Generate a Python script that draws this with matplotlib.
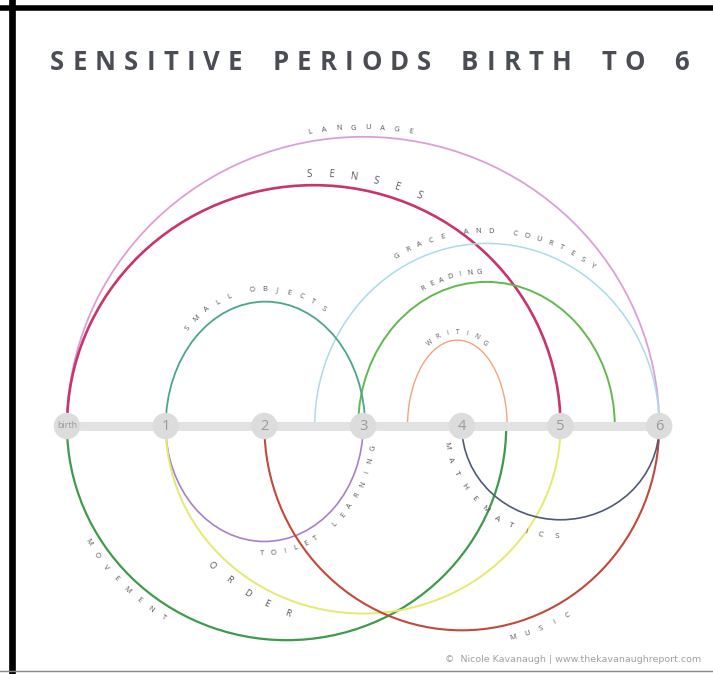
import numpy as np
import matplotlib
matplotlib.use("Agg")
import matplotlib.pyplot as plt
from matplotlib.patches import Arc, Circle
from matplotlib.lines import Line2D
from matplotlib.font_manager import FontProperties
from matplotlib.textpath import TextToPath

# Sensitive periods (Montessori) birth to 6 -- arcs over/under a timeline
ticks = [0, 1, 2, 3, 4, 5, 6]
tick_labels = ["birth", "1", "2", "3", "4", "5", "6"]

periods = ["LANGUAGE", "SENSES", "GRACE AND COURTESY", "READING", "WRITING",
           "SMALL OBJECTS", "TOILET LEARNING", "MOVEMENT", "ORDER", "MUSIC",
           "MATHEMATICS"]
start = [0.0, 0.0, 2.51, 2.95, 3.45, 1.0, 1.0, 0.0, 1.0, 2.0, 4.0]
end = [6.0, 5.0, 6.0, 5.55, 4.46, 3.02, 3.0, 4.45, 5.0, 6.0, 6.0]
reach = [2.93, 2.44, 1.85, 1.46, 0.87, 1.26, -1.17, -2.17, -1.90, -2.07, -0.95]

colors = ["#d9a0d6", "#c8346c", "#acdbe8", "#62b84f", "#f2a47c", "#4aa58c",
          "#a87fc8", "#3f9a4c", "#e6ea6c", "#c0493a", "#4d5a78"]
widths = [1.3, 1.9, 1.1, 1.4, 1.0, 1.3, 1.2, 1.6, 1.4, 1.5, 1.2]
# label placement along each arc: start angle, end angle (deg), offset px, font size
lab_t0 = [100, 91, 119, 117, 118, 134, 269, 211, 224, 284, 190]
lab_t1 = [81, 66, 55, 93, 62, 59, 350, 238, 249, 300, 268]
lab_off = [9, 11, 12, 10, 8, 12, 12, 12, 13, 14, 17]
lab_fs = [5.5, 7, 5.5, 5.5, 4.8, 5.5, 5.5, 5.5, 6.5, 5.5, 6]

W, H = 713, 674
px = 98.7          # pixels per year
x0, y0 = 67, 426   # pixel position of "birth" on the timeline

fig = plt.figure(figsize=(W / 100, H / 100), dpi=100)
ax = fig.add_axes([0, 0, 1, 1])
ax.set_xlim(-x0 / px, (W - x0) / px)
ax.set_ylim(-(H - y0) / px, y0 / px)
ax.axis("off")

lab_font = "Open Sans"

for i, name in enumerate(periods):
    cx = (start[i] + end[i]) / 2
    rx = (end[i] - start[i]) / 2
    ry = abs(reach[i])
    top = reach[i] > 0
    ax.add_patch(Arc((cx, 0), 2 * rx, 2 * ry, theta1=0 if top else 180,
                     theta2=180 if top else 360, color=colors[i],
                     lw=widths[i], zorder=2))
    # curved letters
    off = lab_off[i] / px
    n = len(name)
    ts = np.radians(np.linspace(lab_t0[i], lab_t1[i], n))
    for ch, t in zip(name, ts):
        if ch == " ":
            continue
        x = cx + (rx + off) * np.cos(t)
        y = (ry + off) * np.sin(t)
        if top:
            rot = np.degrees(np.arctan2(-ry * np.cos(t), rx * np.sin(t)))
        else:
            rot = np.degrees(np.arctan2(ry * np.cos(t), -rx * np.sin(t)))
        ax.text(x, y, ch, fontsize=lab_fs[i], color="#555555", family=lab_font,
                ha="center", va="center", rotation=rot, rotation_mode="anchor",
                zorder=4)

# timeline
ax.plot([ticks[0], ticks[-1]], [0, 0], color="#e2e2e2", lw=6.5,
        solid_capstyle="butt", zorder=3)
for t, lab in zip(ticks, tick_labels):
    ax.add_patch(Circle((t, 0), 12.5 / px, color="#dcdcdc", zorder=3))
    ax.text(t, 0, lab, fontsize=6.5 if lab == "birth" else 10.5, color="#9a9a9a",
            ha="center", va="center", family="Open Sans", zorder=4)

# title with letter spacing (word gaps a bit wider)
title = "SENSITIVE PERIODS BIRTH TO 6"
fp = FontProperties(family="Open Sans", weight="bold", size=18.5)
t2p = TextToPath()
cw = [t2p.get_text_width_height_descent(c, fp, ismath=False)[0] * 100 / 72
      for c in title]
left, right = 50, 689
n_sp = title.count(" ")
track = (right - left - sum(cw)) / (len(title) - 1 + 0.8 * n_sp)
xp = left
for c, w in zip(title, cw):
    if c != " ":
        fig.text(xp / W, 1 - 62 / H, c, fontproperties=fp, color="#4a4e54",
                 ha="left", va="center")
        xp += w + track
    else:
        xp += w + track * 1.8

fig.text(701 / W, 1 - 660 / H,
         "\u00a9  Nicole Kavanaugh | www.thekavanaughreport.com",
         fontsize=6.8, color="#a0a0a0", ha="right", va="center",
         family="Liberation Sans Narrow")

# frame
fig.add_artist(Line2D([11.5 / W, 11.5 / W], [0, 1], color="black", lw=4.8))
fig.add_artist(Line2D([0, 1], [1 - 8 / H, 1 - 8 / H], color="black", lw=4))
fig.add_artist(Line2D([0, 1], [1 - 671 / H, 1 - 671 / H], color="#888888", lw=1))

fig.savefig("out.png", dpi=100)
